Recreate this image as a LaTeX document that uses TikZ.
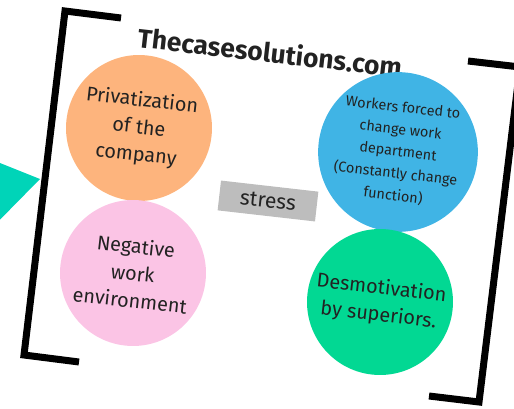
\documentclass[tikz,border=0pt]{standalone}
\usepackage{fontspec}
\setmainfont{Fira Sans}
\definecolor{privcol}{HTML}{FDB47D}
\definecolor{negcol}{HTML}{FBC4E5}
\definecolor{workcol}{HTML}{40B4E5}
\definecolor{desmcol}{HTML}{02D893}
\definecolor{tealcol}{HTML}{00D4B8}
\definecolor{stresscol}{HTML}{BDBDBD}
\definecolor{inkcol}{HTML}{222222}
\begin{document}
\begin{tikzpicture}[x=0.02cm, y=-0.02cm,
    bubble/.style={circle, minimum size=2.92cm, inner sep=0pt, align=center,
        text=inkcol, rotate=-6.5, font=\fontsize{11.3}{15.5}\selectfont},
    bracket/.style={line width=0.14cm, black}]
    % Define the tilt of the whole sheet
    \def\tilt{-6.5}

    \useasboundingbox (0, 0) rectangle (514, 409);
    \clip (0, 0) rectangle (514, 409);

    % Arrow tip coming in from the left
    \fill[tealcol] (-20, 155) -- (40, 179) -- (-20, 240) -- cycle;

    % Draw the two brackets
    \draw[bracket] (121, 18) -- (65, 11) -- (24, 355) -- (79, 362);
    \draw[bracket] (468, 61) -- (520, 67) -- (479, 402) -- (429, 396);

    % Label of the site
    \node[text=inkcol, rotate=\tilt, font=\bfseries\fontsize{15}{18}\selectfont] (site) at (270, 52) {Thecasesolutions.com};

    % The four bubbles with their texts
    \node[bubble, fill=privcol] (priv) at (139, 128) {Privatization\\of the\\company};
    \node[bubble, fill=negcol] (neg) at (133, 273) {Negative\\work\\environment};
    \node[bubble, fill=workcol, font=\fontsize{8.2}{12.6}\selectfont] (work) at (398, 152) {Workers forced to\\change work\\department\\(Constantly change\\function)};
    \node[bubble, fill=desmcol] (desm) at (380, 302) {Desmotivation\\by superiors.};

    % Stress box in the middle
    \node[fill=stresscol, text=inkcol, rotate=\tilt, minimum width=1.96cm, minimum height=0.6cm,
        font=\fontsize{12}{14}\selectfont] (stress) at (268, 201) {stress};
\end{tikzpicture}
\end{document}
